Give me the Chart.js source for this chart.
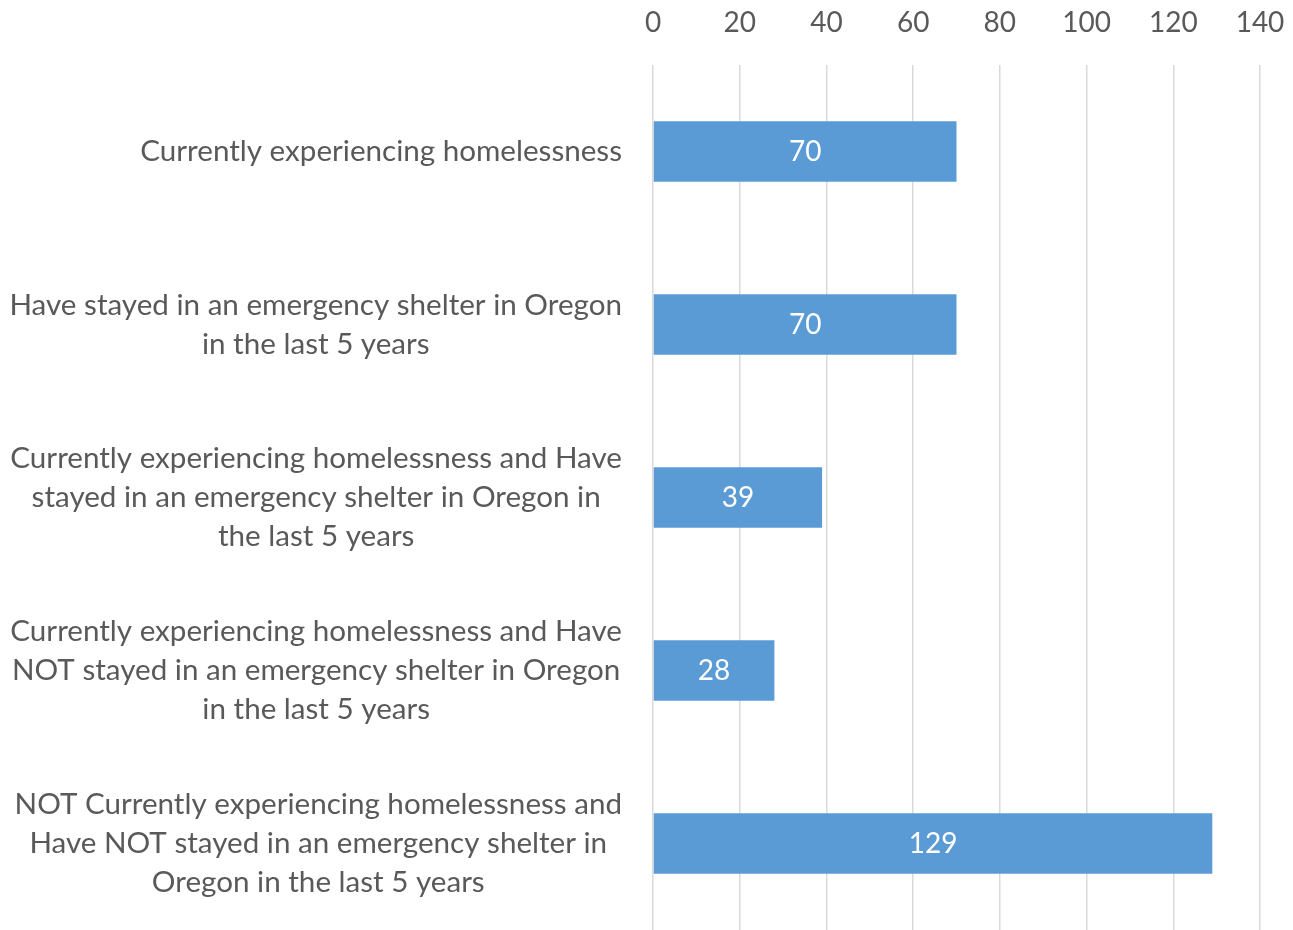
<!DOCTYPE html>
<html>
<head>
<meta charset="utf-8">
<script src="https://cdn.jsdelivr.net/npm/chart.js@4/dist/chart.umd.min.js"></script>
<style>
  html, body { margin: 0; padding: 0; background: #fff; }
  #wrap { width: 1293px; height: 930px; }
</style>
</head>
<body>
<div id="wrap"><canvas id="barChart" width="1293" height="930"></canvas></div>
<script>
// data
const categories = [
    ['Currently experiencing homelessness'],
    ['Have stayed in an emergency shelter in Oregon', 'in the last 5 years'],
    ['Currently experiencing homelessness and Have', 'stayed in an emergency shelter in Oregon in', 'the last 5 years'],
    ['Currently experiencing homelessness and Have', 'NOT stayed in an emergency shelter in Oregon', 'in the last 5 years'],
    ['NOT Currently experiencing homelessness and', 'Have NOT stayed in an emergency shelter in', 'Oregon in the last 5 years']
];
const counts = [70, 70, 39, 28, 129];
const tickValues = [0, 20, 40, 60, 80, 100, 120, 140];

const textColor = '#595959';
const fontFamily = 'Lato, "Open Sans", sans-serif';
const catFontSize = 29.6;
const catLineHeight = 39;
const catGap = 31;

// value labels drawn in the middle of each bar
const barLabels = {
    id: 'barLabels',
    afterDatasetsDraw(chart) {
        const ctx = chart.ctx;
        const meta = chart.getDatasetMeta(0);
        ctx.save();
        ctx.fillStyle = '#ffffff';
        ctx.font = '28px ' + fontFamily;
        ctx.textAlign = 'center';
        ctx.textBaseline = 'middle';
        meta.data.forEach(function(bar, i) {
            const cx = (bar.base + bar.x) / 2;
            ctx.fillText(String(counts[i]), cx, bar.y);
        });
        ctx.restore();
    }
};

// category labels like Excel: each block right aligned, its lines centred in the block
const categoryLabels = {
    id: 'categoryLabels',
    afterDraw(chart) {
        const ctx = chart.ctx;
        const yScale = chart.scales.y;
        const right = yScale.right - catGap;
        ctx.save();
        ctx.fillStyle = textColor;
        ctx.font = catFontSize + 'px ' + fontFamily;
        ctx.textAlign = 'center';
        ctx.textBaseline = 'middle';
        categories.forEach(function(lines, i) {
            const y = yScale.getPixelForTick(i);
            let widest = 0;
            lines.forEach(function(l) { widest = Math.max(widest, ctx.measureText(l).width); });
            const cx = right - widest / 2;
            const top = y - (lines.length - 1) * catLineHeight / 2;
            lines.forEach(function(l, j) {
                ctx.fillText(l, cx, top + j * catLineHeight);
            });
        });
        ctx.restore();
    }
};

// drop the extra room chart.js keeps for overhanging tick labels
function noOverhang(scale) {
    scale.paddingTop = 0;
    scale.paddingBottom = 0;
    scale.paddingLeft = 0;
    scale.paddingRight = 0;
}

document.addEventListener('DOMContentLoaded', function() {
    const canvas = document.getElementById('barChart');
    const ctx = canvas.getContext('2d');

    new Chart(ctx, {
        type: 'bar',
        data: {
            labels: categories,
            datasets: [{
                data: counts,
                backgroundColor: '#5b9bd5',
                borderWidth: 0,
                barPercentage: 0.7,
                categoryPercentage: 0.5
            }]
        },
        options: {
            indexAxis: 'y',
            responsive: false,
            animation: false,
            layout: { padding: { left: 0, right: 33, top: 0, bottom: 0 } },
            plugins: {
                legend: { display: false },
                tooltip: { enabled: false }
            },
            scales: {
                x: {
                    position: 'top',
                    min: 0,
                    max: 140,
                    afterBuildTicks: function(scale) {
                        scale.ticks = tickValues.map(function(v) { return { value: v }; });
                    },
                    afterFit: function(scale) {
                        scale.height = 65;
                        noOverhang(scale);
                    },
                    grid: {
                        color: '#d9d9d9',
                        lineWidth: 1.5,
                        drawTicks: false,
                        tickLength: 0
                    },
                    border: { display: false },
                    ticks: {
                        color: textColor,
                        font: { family: fontFamily, size: 28 },
                        padding: 25,
                        maxRotation: 0
                    }
                },
                y: {
                    afterFit: function(scale) {
                        scale.width = 653;
                        noOverhang(scale);
                    },
                    grid: { display: false, drawTicks: false, tickLength: 0 },
                    border: { display: false },
                    ticks: { display: false, autoSkip: false }
                }
            }
        },
        plugins: [barLabels, categoryLabels]
    });
});
</script>
</body>
</html>
